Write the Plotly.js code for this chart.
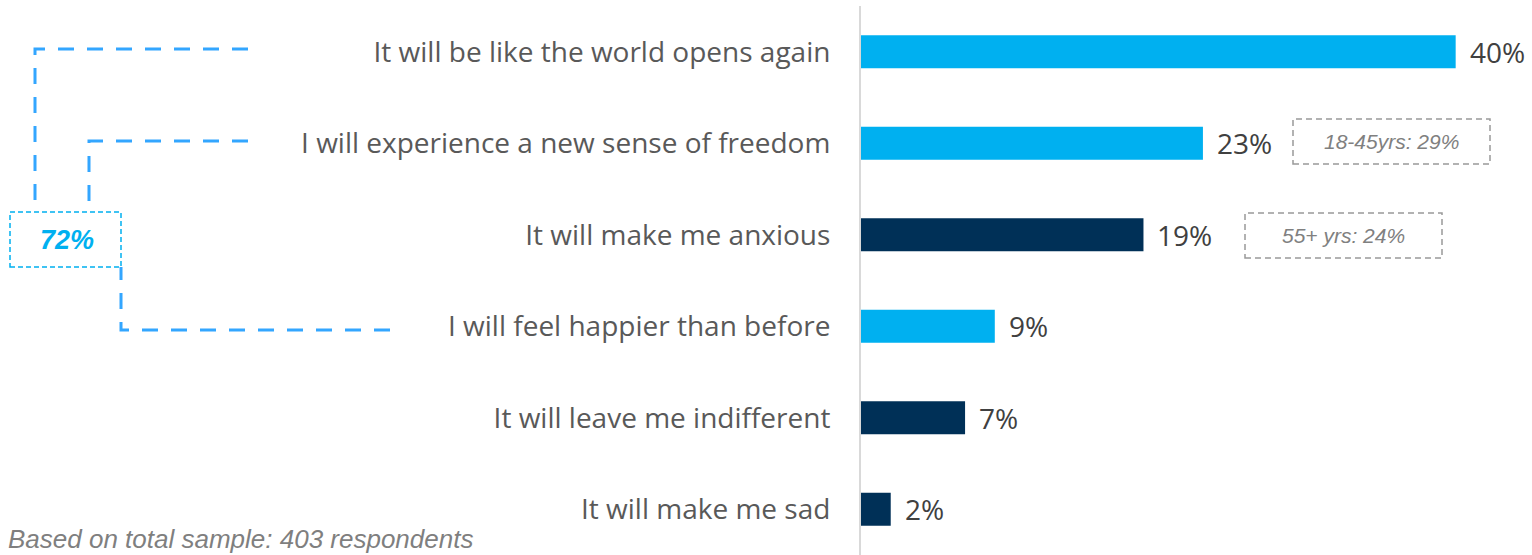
<!DOCTYPE html>
<html>
<head>
<meta charset="utf-8">
<script src="https://cdn.plot.ly/plotly-3.0.1.min.js"></script>
<style>html,body{margin:0;padding:0;background:#fff;}#chart{width:1532px;height:555px;}</style>
</head>
<body>
<div id="chart"></div>
<script>
// ---- data ----
const categories = [
  "It will be like the world opens again",
  "I will experience a new sense of freedom",
  "It will make me anxious",
  "I will feel happier than before",
  "It will leave me indifferent",
  "It will make me sad"
];
const values = [40, 23, 19, 9, 7, 2];
const barGroups = ["positive", "positive", "negative", "positive", "negative", "negative"];
const subgroupNotes = [
  {category: "I will experience a new sense of freedom", text: "18-45yrs: 29%"},
  {category: "It will make me anxious", text: "55+ yrs: 24%"}
];
const combinedLabel = "72%";
const footnote = "Based on total sample: 403 respondents";

// ---- styling ----
const LIGHT = "#00B0F0", DARK = "#003057";
const W = 1532, H = 555;
const M = {l: 861, r: 2, t: 6, b: 0};
const PW = W - M.l - M.r, PH = H - M.t - M.b;
const px = x => (x - M.l) / PW;          // pixel -> paper x
const py = y => (H - M.b - y) / PH;      // pixel -> paper y

const colors = barGroups.map(g => g === "positive" ? LIGHT : DARK);

const trace = {
  type: "bar", orientation: "h",
  x: values, y: categories,
  marker: {color: colors},
  width: 0.36,
  hoverinfo: "skip"
};

const annotations = values.map((v, i) => ({
  x: v, y: categories[i], xref: "x", yref: "y",
  text: v + "%", showarrow: false, xanchor: "left", xshift: 12,
  font: {family: "Open Sans, sans-serif", size: 28, color: "#404040"}
}));

const shapes = [];
// subgroup note boxes
const noteBoxes = [
  {x0: 1293, x1: 1490, y0: 119, y1: 164},
  {x0: 1245, x1: 1442, y0: 213, y1: 258}
];
subgroupNotes.forEach((n, i) => {
  const b = noteBoxes[i];
  shapes.push({type: "rect", xref: "paper", yref: "paper",
    x0: px(b.x0), x1: px(b.x1), y0: py(b.y1), y1: py(b.y0),
    line: {color: "#999999", width: 1.5, dash: "6px,4px"}, fillcolor: "rgba(0,0,0,0)"});
  annotations.push({xref: "paper", yref: "paper",
    x: px((b.x0 + b.x1) / 2), y: py((b.y0 + b.y1) / 2),
    text: "<i>" + n.text + "</i>", showarrow: false, xanchor: "center", yanchor: "middle",
    font: {family: "Liberation Sans, Arial, sans-serif", size: 21, color: "#808080"}});
});

// bracket lines on the left
const BR = "#33A6FF";
const bracketPaths = [
  [[248, 49], [35, 49], [35, 212]],
  [[248, 141], [89, 141], [89, 212]],
  [[390, 330], [121, 330], [121, 267]]
];
bracketPaths.forEach(p => {
  const d = p.map((pt, k) => (k === 0 ? "M" : "L") + px(pt[0]) + "," + py(pt[1])).join(" ");
  shapes.push({type: "path", xref: "paper", yref: "paper", path: d,
    line: {color: BR, width: 3, dash: "16px,13px"}});
});
// 72% box
shapes.push({type: "rect", xref: "paper", yref: "paper",
  x0: px(10), x1: px(121), y0: py(267), y1: py(212),
  line: {color: LIGHT, width: 1.5, dash: "5px,3px"}, fillcolor: "rgba(0,0,0,0)"});
annotations.push({xref: "paper", yref: "paper", x: px(67), y: py(240),
  text: "<b><i>" + combinedLabel + "</i></b>", showarrow: false, xanchor: "center", yanchor: "middle",
  font: {family: "Liberation Sans, Arial, sans-serif", size: 27, color: LIGHT}});

// footnote
annotations.push({xref: "paper", yref: "paper", x: px(7), y: py(555),
  text: "<i>" + footnote + "</i>", showarrow: false, xanchor: "left", yanchor: "bottom",
  borderpad: 0,
  font: {family: "Liberation Sans, Arial, sans-serif", size: 26, color: "#7F7F7F"}});

const layout = {
  width: W, height: H,
  margin: M,
  paper_bgcolor: "#fff", plot_bgcolor: "#fff",
  showlegend: false,
  xaxis: {range: [0, 45], visible: false, fixedrange: true},
  yaxis: {
    type: "category", categoryorder: "array", categoryarray: categories,
    autorange: "reversed",
    showline: true, linecolor: "#D9D9D9", linewidth: 2,
    showgrid: false, zeroline: false,
    ticks: "outside", ticklen: 23, tickcolor: "rgba(0,0,0,0)",
    tickfont: {family: "Open Sans, sans-serif", size: 28, color: "#595959"}
  },
  annotations: annotations,
  shapes: shapes
};

Plotly.newPlot("chart", [trace], layout, {displayModeBar: false, staticPlot: true});
</script>
</body>
</html>
